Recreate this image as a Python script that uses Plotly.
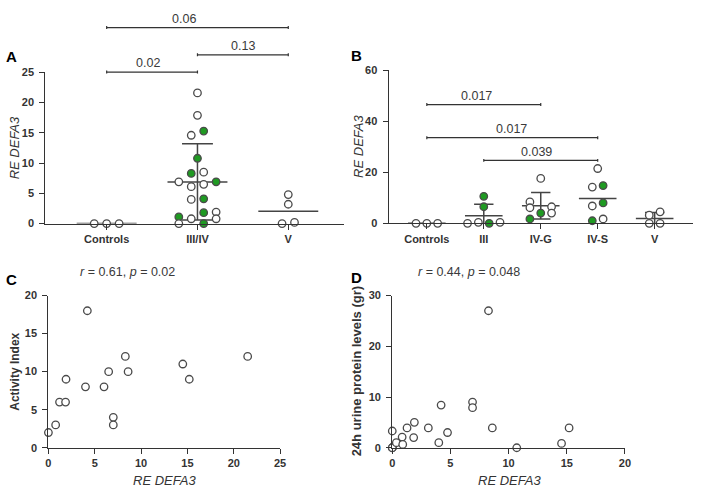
import numpy as np
import plotly.graph_objects as go

W, H = 704, 496

# ---------------- data ----------------
# Panel A
A_CATS = ["Controls", "III/IV", "V"]
A_CONTROLS = [0.0, 0.0, 0.0]
A_CONTROLS_GREEN = [0, 0, 0]
A_III_IV = [21.6, 17.9, 14.6, 15.3, 10.8, 8.3, 8.5, 6.9, 6.9, 6.1, 6.5, 4.0, 4.1,
            1.8, 1.9, 1.1, 0.8, 0.8, 0.0, 0.0]
A_III_IV_GREEN = [0, 0, 0, 1, 1, 1, 0, 0, 1, 0, 0, 0, 1, 1, 0, 1, 0, 0, 0, 1]
A_V = [4.8, 3.2, 0.0, 0.2]
A_V_GREEN = [0, 0, 0, 0]
A_PAIRS = [(0, 1), (1, 2), (0, 2)]
A_PVALUES = ["0.02", "0.13", "0.06"]

# Panel B
B_CATS = ["Controls", "III", "IV-G", "IV-S", "V"]
B_CONTROLS = [0.0, 0.0, 0.0]
B_CONTROLS_GREEN = [0, 0, 0]
B_III = [10.6, 6.5, 0.0, 0.4, 0.0, 0.4]
B_III_GREEN = [1, 1, 0, 0, 1, 0]
B_IVG = [17.6, 8.4, 6.1, 6.5, 4.0, 4.0, 1.7]
B_IVG_GREEN = [0, 0, 0, 0, 0, 1, 1]
B_IVS = [21.5, 14.2, 14.8, 6.8, 8.0, 1.0, 1.7]
B_IVS_GREEN = [0, 0, 1, 0, 1, 1, 0]
B_V = [4.5, 3.2, 0.0, 0.0]
B_V_GREEN = [0, 0, 0, 0]
B_PAIRS = [(0, 2), (0, 3), (1, 3)]
B_PVALUES = ["0.017", "0.017", "0.039"]

# Panel C
C_X = [0.0, 0.78, 1.2, 1.85, 1.9, 4.0, 4.2, 6.0, 6.5, 7.0, 7.0, 8.3, 8.6, 14.5, 15.2, 21.5]
C_Y = [2, 3, 6, 6, 9, 8, 18, 8, 10, 4, 3, 12, 10, 11, 9, 12]
C_STATS = "<i>r</i> = 0.61, <i>p</i> = 0.02"

# Panel D
D_X = [0.0, 0.0, 0.0, 0.0, 0.35, 0.85, 0.9, 1.27, 1.9, 1.84, 3.1, 4.2, 4.0, 4.75,
       6.9, 6.9, 8.27, 8.6, 10.7, 14.55, 15.2]
D_Y = [0.0, 0.0, 0.0, 3.3, 1.0, 2.1, 0.65, 3.9, 5.0, 2.0, 3.9, 8.4, 1.0, 3.0,
       9.0, 7.9, 27.0, 3.9, 0.0, 0.85, 3.9]
D_STATS = "<i>r</i> = 0.44, <i>p</i> = 0.048"

# ---------------- layout / style (positions kept apart from data) ----------------
A_SLOTS = [[-2, 0, 2],
           [0, 0, -1, 1, 0, -1, 1, -3, 3, -1, 1, -1, 1, 1, 3, -3, -1, 3, -3, 1],
           [0, 0, -1, 1]]
A_SHOW_SD = [False, True, False]
A_SLOT_W = 0.0685
A_BRACKET_H = [25.05, 27.9, 32.4]
A_LABEL_X = [0.46, 1.5, 0.85]

B_SLOTS = [[-2, 0, 2], [0, 0, -3, -1, 1, 3], [0, -2, -2, 2, 2, 0, -2],
           [0, -1, 1, -1, 1, -1, 1], [1, -1, -1, 1]]
B_SHOW_SD = [False, True, True, False, True]
B_SLOT_W = 0.095
B_BRACKET_H = [46.6, 33.6, 24.7]
B_LABEL_X = [0.88, 1.49, 1.93]

FONT = "Liberation Sans, Arial, sans-serif"
INK = "#333333"
GREEN = "#1f9a22"


def xdom(p0, p1):
    return [p0 / W, p1 / W]


def ydom(ptop, pbot):
    return [1 - pbot / H, 1 - ptop / H]


DOM = {
    "A": (xdom(43, 345), ydom(68, 223), [-0.674, 2.609], [0, 25]),
    "B": (xdom(390.7, 699), ydom(66, 222.7), [-0.669, 4.674], [0, 60]),
    "C": (xdom(46, 280.7), ydom(296.7, 452.7), [0, 25], [0, 20]),
    "D": (xdom(394.3, 630), ydom(296.7, 452.7), [0, 20], [0, 30]),
}


def ypaper(panel, v):
    _, yd, _, yr = DOM[panel]
    return yd[0] + (v - yr[0]) / (yr[1] - yr[0]) * (yd[1] - yd[0])


fig = go.Figure()


def add_group(xa, ya, ci, vals, green, slots, slot_w, show_sd):
    vals = np.asarray(vals, dtype=float)
    m = vals.mean()
    fig.add_trace(go.Scatter(x=[ci - 0.33, ci + 0.33], y=[m, m], mode="lines",
                             line=dict(color="#444", width=1.5), xaxis=xa, yaxis=ya,
                             showlegend=False, hoverinfo="skip"))
    if show_sd:
        sd = vals.std(ddof=1)
        lo, hi = max(m - sd, 0), m + sd
        xs = [ci, ci, None, ci - 0.17, ci + 0.17]
        ys = [lo, hi, None, hi, hi]
        if m - sd > 0:
            xs += [None, ci - 0.17, ci + 0.17]
            ys += [None, lo, lo]
        fig.add_trace(go.Scatter(x=xs, y=ys, mode="lines",
                                 line=dict(color="#444", width=1.5), xaxis=xa, yaxis=ya,
                                 showlegend=False, hoverinfo="skip"))
    xs = [ci + s * slot_w for s in slots]
    colors = [GREEN if g else "white" for g in green]
    fig.add_trace(go.Scatter(x=xs, y=vals, mode="markers", cliponaxis=False,
                             marker=dict(size=7.5, color=colors,
                                         line=dict(color="#4a4a4a", width=1.3)),
                             xaxis=xa, yaxis=ya, showlegend=False))


A_GROUPS = [(A_CONTROLS, A_CONTROLS_GREEN), (A_III_IV, A_III_IV_GREEN), (A_V, A_V_GREEN)]
for i, (v, g) in enumerate(A_GROUPS):
    add_group("x", "y", i, v, g, A_SLOTS[i], A_SLOT_W, A_SHOW_SD[i])

B_GROUPS = [(B_CONTROLS, B_CONTROLS_GREEN), (B_III, B_III_GREEN), (B_IVG, B_IVG_GREEN),
            (B_IVS, B_IVS_GREEN), (B_V, B_V_GREEN)]
for i, (v, g) in enumerate(B_GROUPS):
    add_group("x2", "y2", i, v, g, B_SLOTS[i], B_SLOT_W, B_SHOW_SD[i])

open_marker = dict(size=7.5, color="white", line=dict(color="#4a4a4a", width=1.3))
fig.add_trace(go.Scatter(x=C_X, y=C_Y, mode="markers", cliponaxis=False,
                         marker=open_marker, xaxis="x3", yaxis="y3", showlegend=False))
fig.add_trace(go.Scatter(x=D_X, y=D_Y, mode="markers", cliponaxis=False,
                         marker=open_marker, xaxis="x4", yaxis="y4", showlegend=False))

# ---------------- axes ----------------
tickfont = dict(family=FONT, size=11, color=INK, weight="bold")
common = dict(showgrid=False, zeroline=False, showline=True, linecolor=INK, linewidth=1.3,
              ticks="outside", ticklen=5, tickwidth=1.3, tickcolor=INK, tickfont=tickfont,
              fixedrange=True)

layout = dict(width=W, height=H, margin=dict(l=0, r=0, t=0, b=0),
              paper_bgcolor="white", plot_bgcolor="white",
              font=dict(family=FONT, color=INK))
names = {"A": ("xaxis", "yaxis", "x", "y"), "B": ("xaxis2", "yaxis2", "x2", "y2"),
         "C": ("xaxis3", "yaxis3", "x3", "y3"), "D": ("xaxis4", "yaxis4", "x4", "y4")}
for p, (xk, yk, xa, ya) in names.items():
    xd, yd, xr, yr = DOM[p]
    layout[xk] = dict(common, domain=xd, range=xr, anchor=ya)
    layout[yk] = dict(common, domain=yd, range=yr, anchor=xa, ticklabelstandoff=3)

layout["xaxis"].update(tickvals=list(range(len(A_CATS))), ticktext=A_CATS)
layout["yaxis"].update(tickvals=[0, 5, 10, 15, 20, 25])
layout["xaxis2"].update(tickvals=list(range(len(B_CATS))), ticktext=B_CATS)
layout["yaxis2"].update(tickvals=[0, 20, 40, 60])
layout["xaxis3"].update(tickvals=[0, 5, 10, 15, 20, 25])
layout["yaxis3"].update(tickvals=[0, 5, 10, 15, 20])
layout["xaxis4"].update(tickvals=[0, 5, 10, 15, 20])
layout["yaxis4"].update(tickvals=[0, 10, 20, 30])
fig.update_layout(**layout)

# ---------------- brackets ----------------
shapes = []
annotations = []
tick_h = 1.5 / H


def add_brackets(panel, xref, pairs, labels, heights, label_x):
    for (i, j), lab, h, lx in zip(pairs, labels, heights, label_x):
        yp = ypaper(panel, h)
        path = (f"M {i},{yp - tick_h} L {i},{yp + tick_h} M {i},{yp} L {j},{yp} "
                f"M {j},{yp - tick_h} L {j},{yp + tick_h}")
        shapes.append(dict(type="path", path=path, xref=xref, yref="paper",
                           line=dict(color=INK, width=1.2)))
        annotations.append(dict(x=lx, y=yp + 9 / H, xref=xref, yref="paper", text=lab,
                                showarrow=False, xanchor="center", yanchor="middle",
                                font=dict(family=FONT, size=12.5, color="#3a3a3a")))


add_brackets("A", "x", A_PAIRS, A_PVALUES, A_BRACKET_H, A_LABEL_X)
add_brackets("B", "x2", B_PAIRS, B_PVALUES, B_BRACKET_H, B_LABEL_X)


def pann(text, px, py, size, bold=False, italic=False, angle=0, color=INK):
    if italic:
        text = f"<i>{text}</i>"
    annotations.append(dict(x=px / W, y=1 - py / H, xref="paper", yref="paper", text=text,
                            showarrow=False, xanchor="center", yanchor="middle",
                            textangle=angle,
                            font=dict(family=FONT, size=size, color=color,
                                      weight="bold" if bold else "normal")))


pann("A", 9, 52, 15, bold=True, color="black")
pann("B", 358, 51, 15, bold=True, color="black")
pann("C", 9, 280, 15, bold=True, color="black")
pann("D", 358, 278, 15, bold=True, color="black")

pann("RE DEFA3", 12, 145, 13, italic=True, angle=-90)
pann("RE DEFA3", 360, 144, 13, italic=True, angle=-90)
pann("Activity Index", 12, 375, 12, bold=True, angle=-90)
pann("24h urine protein levels (gr)", 359, 374, 13, bold=True, angle=-90)
pann("RE DEFA3", 164, 486, 13, italic=True)
pann("RE DEFA3", 513, 486, 13, italic=True)

pann(C_STATS, 126, 273, 12.5, color="#3a3a3a")
pann(D_STATS, 472, 273, 12.5, color="#3a3a3a")

fig.update_layout(shapes=shapes, annotations=annotations)
fig.write_html("out.html", config={"displayModeBar": False},
               post_script="document.body.style.margin='0';document.body.style.overflow='hidden';")
